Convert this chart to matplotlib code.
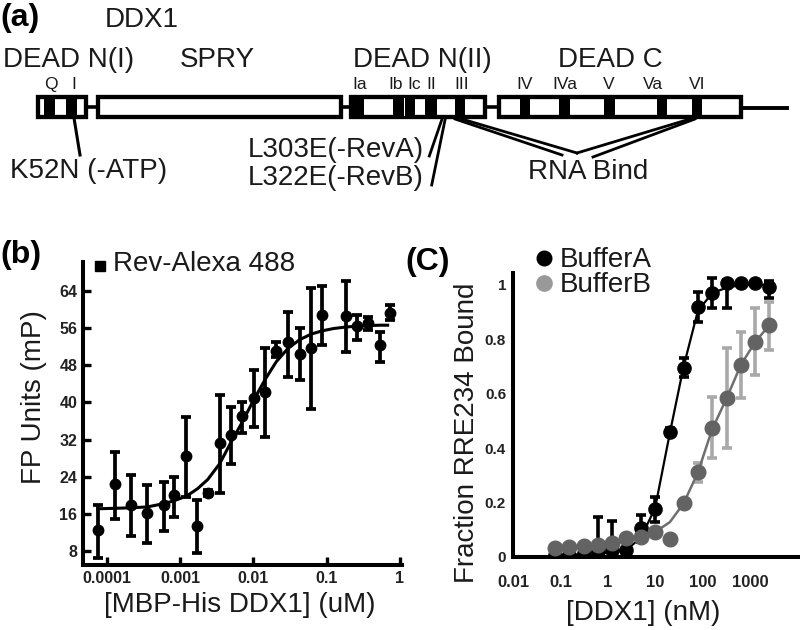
import numpy as np
import matplotlib
matplotlib.use("Agg")
import matplotlib.pyplot as plt
from matplotlib.patches import Rectangle
from matplotlib.ticker import FixedLocator, NullLocator

plt.rcParams['font.family'] = ['Liberation Sans', 'DejaVu Sans']

# ---- (a) DDX1 domain map, diagram units = pixels of the 800x630 figure
box_spans = [(38, 86), (98, 341), (351, 485), (499, 741)]
motif_blocks = [(44, 55), (66, 77), (351, 364), (393, 404), (405, 415), (425, 437),
                (455, 465), (520, 530), (559, 570), (604, 615), (657, 667), (692, 702)]
motif_names = ['Q', 'I', 'Ia', 'Ib', 'Ic', 'II', 'III', 'IV', 'IVa', 'V', 'Va', 'VI']
motif_x = [51, 74, 360, 396, 414, 431, 462, 525, 565, 609, 653, 697]
domain_names = ['DEAD N(I)', 'SPRY', 'DEAD N(II)', 'DEAD C']
domain_x = [3, 180, 353, 558]

# ---- (b) FP binding, Rev-Alexa 488
b_conc = [7.6e-5, 1.29e-4, 2.12e-4, 3.59e-4, 6.0e-4, 8.2e-4, 1.22e-3, 1.73e-3,
          2.39e-3, 3.48e-3, 4.92e-3, 7.1e-3, 0.0101, 0.0146, 0.0207, 0.0297,
          0.043, 0.062, 0.0877, 0.182, 0.258, 0.364, 0.53, 0.741]
b_fp = [12.5, 22.4, 17.9, 16.2, 17.9, 20.0, 28.4, 13.4, 20.5, 31.3, 32.9, 37.0,
        41.0, 42.3, 51.0, 53.0, 50.5, 51.7, 58.9, 58.5, 56.4, 57.1, 52.3, 59.3]
b_hi = [17.9, 29.3, 24.3, 22.2, 22.9, 24.0, 36.9, 18.9, 21.1, 41.5, 39.0, 40.1,
        46.9, 51.6, 53.0, 59.5, 56.1, 64.7, 65.1, 66.2, 58.8, 58.4, 55.2, 60.9]
b_lo = [6.6, 15.0, 11.3, 9.8, 12.3, 15.4, 19.7, 7.5, 19.9, 20.5, 26.8, 33.4,
        34.7, 32.6, 49.8, 45.5, 44.8, 38.5, 52.3, 50.9, 53.4, 55.5, 48.7, 57.8]
b_fit_conc = [7.6e-5, 1.29e-4, 2.12e-4, 3.59e-4, 6.0e-4, 8.2e-4, 1.22e-3, 1.73e-3,
              2.39e-3, 3.48e-3, 4.92e-3, 7.1e-3, 0.0101, 0.0146, 0.0207, 0.0297,
              0.043, 0.062, 0.0877, 0.126, 0.182, 0.258, 0.364, 0.53, 0.68]
b_fit = [17.1, 17.2, 17.3, 17.5, 18.2, 18.8, 19.8, 21.4, 23.4, 26.8, 31.3, 35.8,
         40.5, 45.0, 48.8, 51.6, 53.5, 54.7, 55.4, 55.9, 56.2, 56.4, 56.5, 56.6, 56.6]
b_xticks = [1e-4, 1e-3, 1e-2, 1e-1, 1]
b_xticklabels = ['0.0001', '0.001', '0.01', '0.1', '1']
b_yticks = [8, 16, 24, 32, 40, 48, 56, 64]

# ---- (c) fraction RRE234 bound
c_conc = [0.076, 0.15, 0.31, 0.61, 1.2, 2.4, 4.9, 9.8, 20, 39, 78, 156, 313, 625, 1250, 2500]
bufA = [0.007, 0.007, 0.014, 0.022, 0.026, 0.026, 0.106, 0.175, 0.460, 0.694, 0.920,
        0.969, 1.006, 1.006, 1.006, 0.994]
bufA_hi = [0.007, 0.007, 0.014, 0.148, 0.134, 0.026, 0.154, 0.222, 0.475, 0.730, 0.975,
           1.025, 1.020, 1.006, 1.006, 1.015]
bufA_lo = [0.007, 0.007, 0.014, 0.0, 0.0, 0.026, 0.056, 0.130, 0.445, 0.663, 0.865,
           0.914, 0.914, 1.006, 1.006, 0.951]
bufA_fit = [0.007, 0.008, 0.010, 0.012, 0.016, 0.026, 0.07, 0.18, 0.455, 0.70, 0.905,
            0.97, 0.99, 1.0, 1.0, 1.0]
bufB = [0.032, 0.036, 0.040, 0.044, 0.050, 0.071, 0.075, 0.093, 0.065, 0.197, 0.311,
        0.473, 0.583, 0.706, 0.792, 0.853]
bufB_hi = [0.032, 0.036, 0.040, 0.044, 0.050, 0.071, 0.075, 0.093, 0.065, 0.197, 0.344,
           0.589, 0.767, 0.828, 0.914, 0.939]
bufB_lo = [0.032, 0.036, 0.040, 0.044, 0.050, 0.071, 0.075, 0.093, 0.065, 0.197, 0.277,
           0.363, 0.400, 0.583, 0.669, 0.761]
bufB_fit = [0.032, 0.036, 0.040, 0.044, 0.050, 0.058, 0.070, 0.092, 0.128, 0.197, 0.311,
            0.47, 0.583, 0.706, 0.79, 0.853]
c_xticks = [0.01, 0.1, 1, 10, 100, 1000]
c_xticklabels = ['0.01', '0.1', '1', '10', '100', '1000']
c_yticks = [0, 0.2, 0.4, 0.6, 0.8, 1]
c_yticklabels = ['0', '0.2', '0.4', '0.6', '0.8', '1']

W, H = 800, 630
fig = plt.figure(figsize=(8, 6.3), dpi=100)


def frac(x0, y0, x1, y1):
    return [x0 / W, 1 - y1 / H, (x1 - x0) / W, (y1 - y0) / H]


def style_axes(ax):
    for s in ['top', 'right']:
        ax.spines[s].set_visible(False)
    for s in ['left', 'bottom']:
        ax.spines[s].set_linewidth(2.9)
    ax.set_facecolor('none')


# panel b
axb = fig.add_axes(frac(83, 262, 402, 565))
style_axes(axb)
axb.set_xscale('log')
yerr_b = [np.array(b_fp) - np.array(b_lo), np.array(b_hi) - np.array(b_fp)]
axb.errorbar(b_conc, b_fp, yerr=yerr_b, fmt='o', color='black', ms=7.5,
             elinewidth=2.7, capsize=3.5, capthick=2.7, zorder=3)
axb.plot(b_fit_conc, b_fit, color='black', lw=2.2, zorder=2)
axb.set_xlim(4.75e-5, 1.068)
axb.set_ylim(5, 70.2)
axb.xaxis.set_major_locator(FixedLocator(b_xticks))
axb.xaxis.set_minor_locator(NullLocator())
axb.set_xticklabels(b_xticklabels)
axb.set_yticks(b_yticks)
axb.tick_params(direction='in', length=6, width=2.4, labelsize=11.5, pad=4)
for t in axb.get_xticklabels() + axb.get_yticklabels():
    t.set_fontweight('bold')
    t.set_color('#222222')

# panel c
axc = fig.add_axes(frac(513, 273, 800, 557))
style_axes(axc)
axc.set_xscale('log')
grey_pt = '#636363'
grey_bar = '#a9a9a9'
yerr_a = [np.array(bufA) - np.array(bufA_lo), np.array(bufA_hi) - np.array(bufA)]
yerr_bb = [np.array(bufB) - np.array(bufB_lo), np.array(bufB_hi) - np.array(bufB)]
axc.errorbar(c_conc, bufA, yerr=yerr_a, fmt='none', ecolor='black',
             elinewidth=2.6, capsize=3.5, capthick=2.6, zorder=2)
axc.plot(c_conc, bufA_fit, color='black', lw=1.6, zorder=2)
axc.plot(c_conc, bufA, 'o', color='black', ms=9.5, zorder=3)
axc.errorbar(c_conc, bufB, yerr=yerr_bb, fmt='none', ecolor=grey_bar,
             elinewidth=2.6, capsize=3.5, capthick=2.6, zorder=4)
axc.plot(c_conc, bufB_fit, color='#6f6f6f', lw=1.8, zorder=4)
axc.plot(c_conc, bufB, 'o', color=grey_pt, ms=10.5, zorder=5)
axc.set_xlim(0.01, 1.1e4)
axc.set_ylim(0, 1.044)
axc.xaxis.set_major_locator(FixedLocator(c_xticks))
axc.xaxis.set_minor_locator(NullLocator())
axc.set_xticklabels(c_xticklabels)
axc.set_yticks(c_yticks)
axc.set_yticklabels(c_yticklabels)
axc.tick_params(axis='x', length=0, labelsize=12, pad=13)
axc.tick_params(axis='y', length=0, labelsize=11, pad=5)
for t in axc.get_xticklabels() + axc.get_yticklabels():
    t.set_fontweight('bold')
    t.set_color('#222222')

# overlay in pixel units for the diagram, labels and legends
ov = fig.add_axes([0, 0, 1, 1], zorder=10)
ov.set_xlim(0, W)
ov.set_ylim(H, 0)
ov.axis('off')
ov.patch.set_alpha(0)

txt = dict(fontsize=20, color='#1a1a1a', va='baseline')
ov.text(0, 26, '(a)', fontsize=23, fontweight='bold', va='baseline')
ov.text(105, 27, 'DDX1', **txt)
for name, x in zip(domain_names, domain_x):
    ov.text(x, 67, name, **txt)
for name, x in zip(motif_names, motif_x):
    ov.text(x, 89, name, fontsize=12.5, color='#1a1a1a', ha='center', va='baseline')

# connectors and tail
ov.plot([86, 98], [107, 107], color='black', lw=2.6)
ov.plot([341, 351], [107, 107], color='black', lw=2.6)
ov.plot([485, 499], [107, 107], color='black', lw=2.6)
ov.plot([741, 787], [108, 108], color='black', lw=2.8)
for x0, x1 in motif_blocks:
    ov.add_patch(Rectangle((x0, 97), x1 - x0, 20, facecolor='black', edgecolor='none'))
for x0, x1 in box_spans:
    ov.add_patch(Rectangle((x0, 97), x1 - x0, 20, facecolor='none',
                           edgecolor='black', lw=3.1))
ov.add_patch(Rectangle((404, 98), 1, 18, facecolor='white', edgecolor='none'))

# pointer lines
ov.plot([74, 80], [118, 155], color='black', lw=2.2)
ov.plot([441.7, 429.3], [120, 156], color='black', lw=2.0)
ov.plot([445, 431.7], [120, 185], color='black', lw=2.0)
ov.plot([455, 562], [119, 155], color='black', lw=2.0)
ov.plot([461.7, 577], [119, 153], color='black', lw=2.0)
ov.plot([690, 577], [119, 153], color='black', lw=2.0)
ov.plot([695, 593], [119, 157], color='black', lw=2.0)
ov.text(10, 178, 'K52N (-ATP)', **txt)
ov.text(248, 157, 'L303E(-RevA)', **txt)
ov.text(248, 185, 'L322E(-RevB)', **txt)
ov.text(528, 179, 'RNA Bind', **txt)

# panel b labels
ov.text(0, 263, '(b)', fontsize=23, fontweight='bold', va='baseline')
ov.plot([100], [266], 's', color='black', ms=7.5)
ov.text(113, 271, 'Rev-Alexa 488', **txt)
ov.text(34, 397, 'FP Units (mP)', fontsize=20, color='#1a1a1a', rotation=90,
        ha='center', va='center')
ov.text(240, 605, '[MBP-His DDX1] (uM)', fontsize=20, color='#1a1a1a',
        ha='center', va='center')

# panel c labels
ov.text(405, 270, '(C)', fontsize=23, fontweight='bold', va='baseline')
ov.plot([544], [258], 'o', color='black', ms=10.5)
ov.text(560, 267, 'BufferA', **txt)
ov.plot([544], [283], 'o', color='#999999', ms=11)
ov.text(560, 292, 'BufferB', **txt)
ov.text(467, 433, 'Fraction RRE234 Bound', fontsize=20, color='#1a1a1a', rotation=90,
        ha='center', va='center')
ov.text(643, 613, '[DDX1] (nM)', fontsize=20, color='#1a1a1a', ha='center', va='center')

fig.savefig('out.png', dpi=100)
